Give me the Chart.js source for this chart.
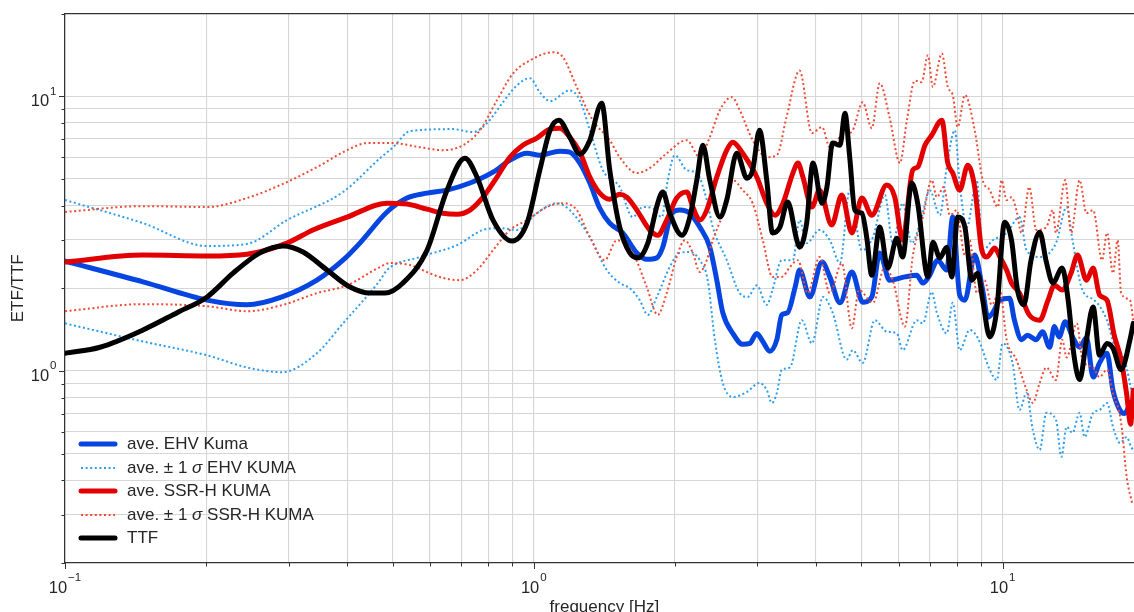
<!DOCTYPE html>
<html>
<head>
<meta charset="utf-8">
<script src="https://cdn.jsdelivr.net/npm/chart.js@4.4.1/dist/chart.umd.min.js"></script>
<style>
  html, body { margin: 0; padding: 0; background: #fff; overflow: hidden; }
  #wrap { position: relative; width: 1134px; height: 612px; }
  #legend {
    position: absolute; left: 0; top: 0;
    font-family: 'Liberation Sans', Arial, sans-serif;
    font-size: 17px; color: #262626;
  }
  .row { position: absolute; left: 78px; height: 22px; display: flex; align-items: center; white-space: nowrap; }
  .row svg { width: 40px; height: 10px; margin-right: 9px; }
</style>
</head>
<body>
<div id="wrap">
  <canvas id="chart"></canvas>
  <div id="legend"></div>
</div>
<script>
// EHV average (Kuma)
const ehvFreq = [0.1, 0.1467, 0.201, 0.2445, 0.2904, 0.3446, 0.3917, 0.4256, 0.4863, 0.5364,
  0.5918, 0.6529, 0.731, 0.8185, 0.8897, 0.9672, 1.03, 1.136, 1.193, 1.254,
  1.317, 1.383, 1.452, 1.548, 1.659, 1.742, 1.83, 1.884, 1.97, 2.048,
  2.152, 2.26, 2.374, 2.457, 2.53, 2.658, 2.79, 2.89, 2.99, 3.08,
  3.187, 3.30, 3.38, 3.48, 3.61, 3.69, 3.88, 4.12, 4.28, 4.50,
  4.77, 5.03, 5.26, 5.47, 5.74, 6.19, 6.56, 6.76, 6.99, 7.27,
  7.60, 7.83, 8.10, 8.31, 8.72, 9.07, 9.30, 9.53, 9.87, 10.35,
  10.6, 10.98, 11.3, 11.8, 12.17, 12.6, 12.9, 13.2, 13.6, 14.1,
  14.6, 15.1, 15.6, 16.1, 16.7, 17.2, 17.8, 18.2, 18.8, 19.5];
const ehvMean = [2.51, 2.11, 1.81, 1.74, 1.86, 2.14, 2.53, 2.92, 3.79, 4.26,
  4.44, 4.55, 4.83, 5.29, 5.85, 6.20, 6.10, 6.31, 6.26, 5.71,
  4.83, 3.91, 3.45, 3.18, 2.69, 2.55, 2.58, 2.82, 3.75, 3.85,
  3.75, 3.34, 2.82, 2.14, 1.63, 1.37, 1.25, 1.26, 1.37, 1.28,
  1.18, 1.30, 1.60, 1.63, 2.02, 2.33, 1.86, 2.49, 2.20, 1.77,
  2.29, 1.78, 1.86, 2.69, 2.14, 2.20, 2.23, 2.09, 2.23, 2.53,
  2.33, 3.63, 1.89, 1.81, 2.64, 1.97, 1.57, 1.63, 1.81, 1.84,
  1.53, 1.30, 1.35, 1.30, 1.39, 1.22, 1.45, 1.33, 1.51, 1.33,
  1.22, 1.32, 0.95, 1.07, 1.16, 0.85, 0.72, 0.70, 0.77, 0.80];

// EHV average + 1 sigma
const ehvUpFreq = [0.1, 0.1467, 0.201, 0.2445, 0.2975, 0.3917, 0.47, 0.501, 0.5444, 0.6723,
  0.7419, 0.7947, 0.8597, 0.9209, 0.9815, 1.03, 1.083, 1.193, 1.254, 1.317,
  1.404, 1.525, 1.626, 1.708, 1.794, 1.875, 1.931, 1.999, 2.12, 2.227,
  2.339, 2.409, 2.58, 2.75, 2.86, 2.99, 3.14, 3.23, 3.38, 3.57,
  3.69, 3.82, 4.07, 4.28, 4.50, 4.72, 5.01, 5.29, 5.61, 5.83,
  6.12, 6.40, 6.72, 6.99, 7.35, 7.60, 7.91, 8.10, 8.39, 8.81,
  9.07, 9.53, 10.2, 10.87, 11.25, 12.0, 13.0, 13.7, 14.1, 14.8,
  15.7, 16.7, 17.3, 18.2, 19.0];
const ehvUp = [4.19, 3.45, 2.85, 2.90, 3.54, 4.48, 5.95, 6.52, 7.46, 7.59,
  7.40, 7.98, 9.51, 10.96, 11.63, 10.34, 9.59, 10.5, 9.67, 7.52,
  5.38, 4.67, 3.63, 3.95, 3.91, 3.63, 4.95, 6.10, 5.38, 5.25,
  4.19, 3.34, 2.53, 1.92, 1.86, 2.05, 1.74, 1.97, 2.53, 2.53,
  3.54, 2.92, 3.26, 2.99, 2.47, 4.55, 2.75, 3.07, 4.37, 2.92,
  4.08, 2.92, 3.63, 4.55, 3.69, 5.52, 7.52, 4.83, 3.34, 4.95,
  2.75, 2.99, 3.18, 3.63, 2.75, 2.60, 2.92, 3.95, 2.99, 1.97,
  1.81, 1.53, 1.24, 1.10, 0.78];

// EHV average - 1 sigma
const ehvLoFreq = [0.1, 0.1467, 0.201, 0.2445, 0.2904, 0.3446, 0.3917, 0.47, 0.4863, 0.5718,
  0.686, 0.7793, 0.847, 0.9209, 1.015, 1.12, 1.193, 1.317, 1.431, 1.525,
  1.603, 1.683, 1.751, 1.83, 1.95, 2.048, 2.152, 2.26, 2.35, 2.433,
  2.53, 2.658, 2.85, 3.03, 3.14, 3.22, 3.30, 3.38, 3.52, 3.73,
  3.92, 4.14, 4.34, 4.65, 4.79, 5.03, 5.34, 5.66, 5.95, 6.12,
  6.56, 6.76, 7.06, 7.24, 7.60, 7.83, 8.10, 8.51, 8.85, 9.39,
  9.72, 10.0, 10.5, 10.87, 11.25, 11.6, 12.0, 12.4, 13.0, 13.35,
  13.7, 14.1, 14.6, 14.96, 15.6, 16.1, 16.7, 17.2, 17.8, 18.4,
  18.8, 19.3];
const ehvLo = [1.49, 1.28, 1.14, 1.03, 0.99, 1.16, 1.49, 2.14, 2.33, 2.60,
  2.87, 3.26, 3.31, 3.26, 3.75, 4.08, 3.85, 3.07, 2.33, 2.09,
  2.00, 1.81, 1.60, 1.86, 2.39, 2.69, 2.71, 2.53, 2.14, 1.30,
  0.905, 0.804, 0.839, 0.905, 0.853, 0.765, 0.832, 1.01, 1.03, 1.53,
  1.26, 1.86, 1.63, 1.10, 1.19, 1.07, 1.53, 1.39, 1.37, 1.19,
  1.53, 1.49, 1.94, 1.63, 1.37, 1.77, 1.19, 1.41, 1.32, 1.01,
  0.927, 1.26, 1.07, 0.721, 0.832, 0.61, 0.516, 0.704, 0.663, 0.487,
  0.626, 0.595, 0.704, 0.575, 0.704, 0.721, 0.765, 0.626, 0.547, 0.575,
  0.529, 0.50];

// SSR-H average (KUMA)
const ssrFreq = [0.1, 0.1467, 0.201, 0.2445, 0.2975, 0.338, 0.3996, 0.4863, 0.5364, 0.5918,
  0.640, 0.686, 0.731, 0.7793, 0.8347, 0.8897, 0.9474, 1.015, 1.083, 1.136,
  1.193, 1.254, 1.317, 1.383, 1.452, 1.525, 1.579, 1.659, 1.767, 1.838,
  1.921, 2.018, 2.12, 2.184, 2.26, 2.339, 2.457, 2.58, 2.658, 2.79,
  2.99, 3.14, 3.27, 3.40, 3.57, 3.66, 3.75, 3.92, 4.07, 4.32,
  4.54, 4.77, 5.01, 5.26, 5.66, 5.89, 6.12, 6.43, 6.59, 6.83,
  7.06, 7.42, 7.64, 7.83, 8.10, 8.43, 8.72, 9.03, 9.26, 9.62,
  9.87, 10.2, 10.45, 10.87, 11.4, 12.0, 12.5, 12.9, 13.4, 14.0,
  14.45, 15.1, 15.6, 16.1, 16.7, 17.3, 17.9, 18.4, 18.75, 19.0];
const ssrMean = [2.49, 2.64, 2.62, 2.66, 2.92, 3.26, 3.63, 4.08, 4.05, 3.88,
  3.75, 3.72, 3.85, 4.29, 5.08, 6.00, 6.63, 7.04, 7.59, 7.65,
  7.10, 6.26, 5.08, 4.44, 4.22, 4.40, 4.29, 3.85, 3.26, 3.12,
  3.54, 4.26, 4.48, 3.95, 3.54, 3.85, 5.08, 6.36, 6.80, 6.20,
  5.08, 4.08, 3.69, 4.08, 5.25, 5.71, 5.08, 3.95, 4.55, 3.40,
  4.37, 3.18, 4.26, 3.69, 4.75, 4.29, 2.99, 5.38, 5.52, 6.63,
  7.21, 8.18, 5.71, 5.25, 4.55, 5.61, 4.67, 2.75, 2.60, 2.80,
  2.60, 2.33, 2.09, 1.92, 1.60, 1.53, 1.81, 2.05, 1.97, 2.27,
  2.64, 2.14, 2.37, 1.89, 1.81, 1.35, 1.10, 0.82, 0.64, 0.85];

// SSR-H average + 1 sigma
const ssrUpFreq = [0.1, 0.1467, 0.201, 0.2445, 0.2975, 0.3446, 0.3996, 0.4406, 0.501, 0.5718,
  0.640, 0.7063, 0.7677, 0.8347, 0.903, 0.9815, 1.098, 1.153, 1.235, 1.336,
  1.452, 1.525, 1.659, 1.767, 1.921, 2.12, 2.26, 2.374, 2.494, 2.645,
  2.75, 2.93, 3.14, 3.30, 3.46, 3.69, 3.92, 4.12, 4.28, 4.50,
  4.79, 5.03, 5.26, 5.47, 5.74, 6.04, 6.25, 6.50, 6.72, 6.93,
  7.10, 7.42, 7.64, 7.83, 8.02, 8.31, 8.72, 9.07, 9.39, 9.77,
  9.95, 10.2, 10.45, 10.7, 10.98, 11.4, 11.8, 12.4, 12.8, 13.0,
  13.6, 14.0, 14.6, 15.1, 15.6, 16.3, 16.7, 17.2, 17.6, 17.9,
  18.7, 19.0];
const ssrUp = [3.79, 3.98, 3.95, 4.26, 4.87, 5.52, 6.36, 6.75, 6.75, 6.52,
  6.36, 6.63, 7.52, 9.67, 12.1, 13.5, 14.45, 13.9, 10.8, 8.18,
  6.92, 6.00, 5.25, 5.47, 6.20, 6.92, 6.00, 7.10, 8.89, 9.92,
  8.89, 6.92, 6.00, 6.10, 8.39, 12.4, 7.34, 7.72, 6.52, 7.10,
  7.52, 9.51, 7.65, 11.15, 8.39, 5.71, 8.18, 11.4, 11.25, 14.1,
  10.8, 14.3, 10.8, 10.1, 7.72, 10.1, 7.52, 4.95, 4.55, 3.95,
  4.95, 4.19, 4.29, 3.85, 3.18, 4.67, 3.26, 3.34, 3.85, 3.18,
  4.95, 3.18, 4.95, 3.75, 3.85, 2.53, 3.18, 2.27, 2.99, 1.92,
  1.81, 1.53];

// SSR-H average - 1 sigma
const ssrLoFreq = [0.1, 0.1467, 0.201, 0.2445, 0.2917, 0.3446, 0.3996, 0.47, 0.4935, 0.5444,
  0.5918, 0.640, 0.696, 0.7564, 0.8185, 0.8897, 0.9672, 1.066, 1.153, 1.235,
  1.317, 1.417, 1.503, 1.626, 1.742, 1.838, 1.921, 2.018, 2.10, 2.184,
  2.26, 2.339, 2.409, 2.58, 2.658, 2.79, 2.93, 3.08, 3.23, 3.38,
  3.52, 3.66, 3.84, 4.07, 4.28, 4.54, 4.77, 4.94, 5.29, 5.61,
  5.83, 6.19, 6.43, 6.76, 7.06, 7.24, 7.49, 7.72, 7.98, 8.31,
  8.51, 8.81, 9.15, 9.48, 9.87, 10.2, 10.7, 11.25, 11.6, 12.0,
  12.4, 13.0, 13.4, 13.7, 14.4, 14.8, 15.6, 16.1, 16.7, 17.2,
  17.9, 18.4, 18.9];
const ssrLo = [1.65, 1.75, 1.72, 1.65, 1.74, 1.92, 2.05, 2.39, 2.47, 2.43,
  2.29, 2.18, 2.14, 2.33, 2.75, 3.26, 3.54, 3.95, 4.08, 3.85,
  3.07, 2.53, 2.99, 2.69, 2.02, 1.60, 1.92, 2.60, 2.99, 2.69,
  2.29, 2.53, 2.99, 4.08, 4.95, 4.55, 4.08, 2.99, 2.20, 2.20,
  2.39, 2.53, 1.92, 2.60, 1.92, 2.47, 1.43, 1.97, 1.77, 2.39,
  2.14, 1.45, 2.60, 3.63, 4.95, 4.29, 4.67, 3.69, 3.85, 2.64,
  2.99, 1.92, 2.14, 1.74, 1.97, 1.30, 1.10, 0.853, 0.765, 0.905,
  1.03, 0.927, 1.30, 1.12, 1.49, 1.10, 1.03, 0.95, 1.01, 0.83,
  0.65, 0.41, 0.33];

// TTF
const ttfFreq = [0.1, 0.1188, 0.1467, 0.1734, 0.201, 0.2283, 0.2606, 0.2917, 0.3219, 0.3622,
  0.4055, 0.4473, 0.4816, 0.526, 0.5918, 0.6529, 0.7131, 0.7564, 0.8185, 0.8985,
  0.9672, 1.03, 1.083, 1.131, 1.193, 1.254, 1.317, 1.396, 1.452, 1.525,
  1.603, 1.666, 1.751, 1.838, 1.884, 1.95, 2.069, 2.152, 2.227, 2.294,
  2.374, 2.494, 2.58, 2.71, 2.85, 2.93, 3.03, 3.14, 3.23, 3.35,
  3.48, 3.64, 3.69, 3.82, 3.94, 4.12, 4.22, 4.34, 4.50, 4.61,
  4.72, 4.84, 5.01, 5.13, 5.26, 5.47, 5.69, 5.95, 6.12, 6.40,
  6.59, 6.93, 7.10, 7.35, 7.60, 7.79, 8.02, 8.31, 8.60, 8.85,
  9.07, 9.39, 9.72, 10.1, 10.45, 10.76, 11.1, 11.5, 12.0, 12.4,
  12.8, 13.4, 13.8, 14.2, 14.6, 15.1, 15.6, 16.1, 16.7, 17.2,
  17.9, 18.7, 19.0];
const ttf = [1.16, 1.22, 1.41, 1.63, 1.86, 2.27, 2.69, 2.85, 2.71, 2.33,
  2.02, 1.92, 1.92, 2.09, 2.75, 4.55, 5.95, 5.08, 3.54, 2.97,
  3.45, 5.38, 7.52, 8.18, 7.10, 6.15, 6.92, 9.43, 5.40, 3.34,
  2.69, 2.58, 2.92, 4.08, 4.48, 3.75, 3.12, 3.63, 4.95, 6.63,
  4.95, 3.63, 4.19, 6.20, 5.03, 5.38, 7.52, 4.95, 3.18, 3.34,
  4.12, 2.99, 2.82, 3.45, 5.71, 4.08, 4.67, 6.75, 6.63, 8.67,
  6.00, 3.85, 3.75, 3.07, 2.23, 3.34, 2.37, 3.04, 2.60, 4.83,
  4.08, 2.20, 2.94, 2.58, 2.82, 2.20, 3.63, 3.34, 2.14, 2.27,
  1.81, 1.33, 1.67, 3.48, 2.99, 1.97, 1.74, 2.53, 3.20, 2.49,
  2.09, 2.37, 1.81, 1.14, 0.93, 1.30, 1.71, 1.14, 1.26, 1.21,
  1.01, 1.30, 1.49];

const xMin = 0.1, xMax = 19.07;
const yMin = 0.2, yMax = 20;

const BLUE = '#0645e0';
const BLUE_DOT = '#2b9ef2';
const RED = '#e30000';
const RED_DOT = '#f04a36';

const legendItems = [
  { html: 'ave. EHV Kuma', color: BLUE, width: 5, dash: null },
  { html: 'ave. \u00b1 1 <i>\u03c3</i> EHV KUMA', color: BLUE_DOT, width: 2, dash: '2 2.6' },
  { html: 'ave. SSR-H KUMA', color: RED, width: 5, dash: null },
  { html: 'ave. \u00b1 1 <i>\u03c3</i> SSR-H KUMA', color: RED_DOT, width: 2, dash: '2 2.6' },
  { html: 'TTF', color: '#000', width: 5, dash: null }
];

function toPoints(xs, ys) {
  const n = Math.min(xs.length, ys.length);
  const pts = [];
  for (let i = 0; i < n; i++) pts.push({ x: xs[i], y: ys[i] });
  return pts;
}

function solid(label, xs, ys, color, order) {
  return {
    label, data: toPoints(xs, ys), borderColor: color, borderWidth: 5,
    borderCapStyle: 'round', borderJoinStyle: 'round', pointRadius: 0,
    cubicInterpolationMode: 'monotone', fill: false, order
  };
}

function dotted(label, xs, ys, color, order) {
  return {
    label, data: toPoints(xs, ys), borderColor: color, borderWidth: 2,
    borderDash: [2, 2.6], borderCapStyle: 'butt', pointRadius: 0,
    cubicInterpolationMode: 'monotone', fill: false, order
  };
}

function logTicks(min, max) {
  const out = [];
  for (let e = -2; e <= 2; e++) {
    for (let m = 1; m <= 9; m++) {
      const v = m * Math.pow(10, e);
      if (v >= min * 0.9999 && v <= max * 1.0001) out.push({ value: v });
    }
  }
  return out;
}

function isDecade(v) {
  const l = Math.log10(v);
  return Math.abs(l - Math.round(l)) < 1e-6;
}

const FONT = "'Liberation Sans', Arial, sans-serif";
const TEXT = '#262626';

// "10" with a superscript exponent, like matplotlib's mathtext labels
function drawPow(ctx, exp, px, py, axis) {
  const sup = exp < 0 ? '\u2212' + Math.abs(exp) : String(exp);
  ctx.font = '16.5px ' + FONT;
  const w10 = ctx.measureText('10').width;
  ctx.font = '11.5px ' + FONT;
  const wSup = ctx.measureText(sup).width;
  const total = w10 + 1 + wSup;
  const x0 = axis === 'x' ? px - total / 2 : 56.5 - total;
  const base = axis === 'x' ? 592.5 : py + 10;
  ctx.font = '16.5px ' + FONT;
  ctx.fillText('10', x0, base);
  ctx.font = '11.5px ' + FONT;
  ctx.fillText(sup, x0 + w10 + 1, base - 11.5);
}

const axisDecor = {
  id: 'axisDecor',
  afterDraw(chart) {
    const { ctx, chartArea: a, scales: { x, y } } = chart;
    ctx.save();

    // top spine (right spine falls outside the picture)
    ctx.strokeStyle = '#333';
    ctx.lineWidth = 1.25;
    ctx.beginPath();
    ctx.moveTo(a.left, a.top);
    ctx.lineTo(a.right, a.top);
    ctx.stroke();

    // outward tick marks
    ctx.lineWidth = 1;
    ctx.beginPath();
    x.ticks.forEach(t => {
      const px = Math.round(x.getPixelForValue(t.value)) + 0.5;
      const len = isDecade(t.value) ? 6 : 3.5;
      ctx.moveTo(px, a.bottom);
      ctx.lineTo(px, a.bottom + len);
    });
    y.ticks.forEach(t => {
      const py = Math.round(y.getPixelForValue(t.value)) + 0.5;
      const len = isDecade(t.value) ? 6 : 3.5;
      ctx.moveTo(a.left, py);
      ctx.lineTo(a.left - len, py);
    });
    ctx.stroke();

    // tick labels
    ctx.fillStyle = TEXT;
    ctx.textAlign = 'left';
    ctx.textBaseline = 'alphabetic';
    x.ticks.filter(t => isDecade(t.value)).forEach(t => {
      drawPow(ctx, Math.round(Math.log10(t.value)), x.getPixelForValue(t.value), 0, 'x');
    });
    y.ticks.filter(t => isDecade(t.value) && t.value < yMax).forEach(t => {
      drawPow(ctx, Math.round(Math.log10(t.value)), 0, y.getPixelForValue(t.value), 'y');
    });

    // axis titles
    ctx.font = '17px ' + FONT;
    ctx.textAlign = 'center';
    const xCenter = (x.getPixelForValue(0.1) + x.getPixelForValue(20)) / 2;
    ctx.fillText('frequency [Hz]', xCenter, 611.5);
    ctx.save();
    ctx.translate(18, (a.top + a.bottom) / 2);
    ctx.rotate(-Math.PI / 2);
    ctx.textBaseline = 'middle';
    ctx.fillText('ETF/TTF', 0, 0);
    ctx.restore();

    ctx.restore();
  }
};

const gridOpts = { color: '#d6d6d6', lineWidth: 1.1, drawTicks: false };
const borderOpts = { color: '#333', width: 1.25 };

new Chart(document.getElementById('chart'), {
  type: 'line',
  data: {
    datasets: [
      solid('TTF', ttfFreq, ttf, '#000000', 0),
      dotted('ave. + 1 sigma SSR-H KUMA', ssrUpFreq, ssrUp, RED_DOT, 1),
      dotted('ave. - 1 sigma SSR-H KUMA', ssrLoFreq, ssrLo, RED_DOT, 1),
      solid('ave. SSR-H KUMA', ssrFreq, ssrMean, RED, 2),
      dotted('ave. + 1 sigma EHV KUMA', ehvUpFreq, ehvUp, BLUE_DOT, 3),
      dotted('ave. - 1 sigma EHV KUMA', ehvLoFreq, ehvLo, BLUE_DOT, 3),
      solid('ave. EHV Kuma', ehvFreq, ehvMean, BLUE, 4)
    ]
  },
  options: {
    responsive: true,
    maintainAspectRatio: false,
    animation: false,
    devicePixelRatio: 1,
    layout: { padding: { left: 0, right: 0, top: 13.5, bottom: 0 } },
    plugins: {
      legend: { display: false },
      tooltip: { enabled: false }
    },
    scales: {
      x: {
        type: 'logarithmic',
        min: xMin,
        max: xMax,
        afterBuildTicks: s => { s.ticks = logTicks(xMin, xMax); },
        afterFit: s => { s.height = 49; },
        ticks: { display: false },
        grid: gridOpts,
        border: borderOpts
      },
      y: {
        type: 'logarithmic',
        min: yMin,
        max: yMax,
        afterBuildTicks: s => { s.ticks = logTicks(yMin, yMax); },
        afterFit: s => { s.width = 65; },
        ticks: { display: false },
        grid: gridOpts,
        border: borderOpts
      }
    }
  },
  plugins: [axisDecor]
});

// legend drawn inside the plot, lower left, no frame
const legend = document.getElementById('legend');
legendItems.forEach((item, i) => {
  const row = document.createElement('div');
  row.className = 'row';
  row.style.top = (444.3 + i * 23.5 - 11) + 'px';
  const dash = item.dash ? ` stroke-dasharray="${item.dash}"` : '';
  const cap = item.dash ? 'butt' : 'round';
  row.innerHTML = `<svg viewBox="0 0 40 10"><line x1="3" y1="5" x2="37" y2="5" stroke="${item.color}" stroke-width="${item.width}" stroke-linecap="${cap}"${dash}/></svg><span>${item.html}</span>`;
  legend.appendChild(row);
});
</script>
</body>
</html>
